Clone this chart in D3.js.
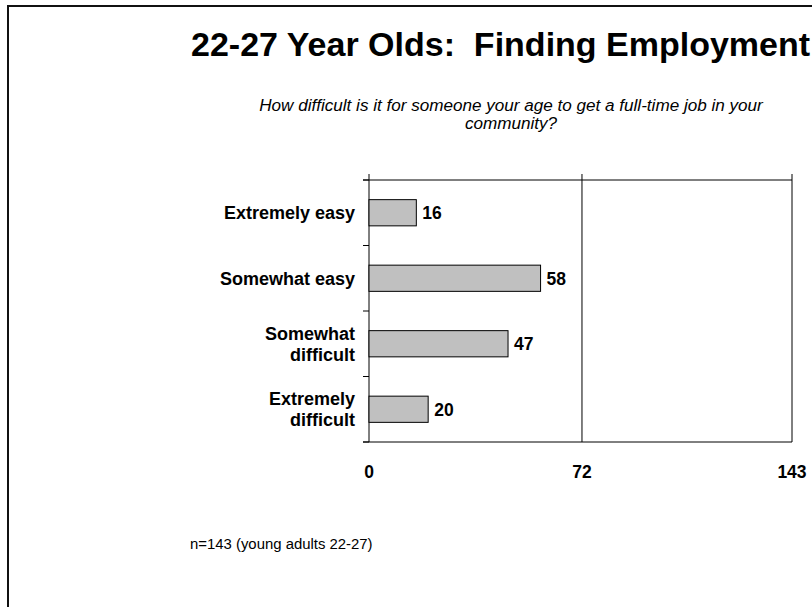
<!DOCTYPE html>
<html>
<head>
<meta charset="utf-8">
<script src="https://cdn.jsdelivr.net/npm/d3@7"></script>
<style>
  html, body { margin: 0; padding: 0; background: #fff; overflow: hidden; }
  svg { display: block; }
  text { font-family: "Liberation Sans", Arial, Helvetica, sans-serif; fill: #000; white-space: pre; }
</style>
</head>
<body>
<svg id="chart" width="812" height="607"></svg>
<script>
// ---- data ----
const categories = [["Extremely easy"], ["Somewhat easy"], ["Somewhat", "difficult"], ["Extremely", "difficult"]];
const values = [16, 58, 47, 20];
const tickValues = [0, 72, 143];
const titleText = "22-27 Year Olds:  Finding Employment";
const subtitleLines = ["How difficult is it for someone your age to get a full-time job in your", "community?"];
const footnote = "n=143 (young adults 22-27)";

const svg = d3.select("#chart");

// outer frame (extends past the visible area)
svg.append("rect")
  .attr("x", 8).attr("y", 6).attr("width", 900).attr("height", 700)
  .attr("fill", "none").attr("stroke", "#111").attr("stroke-width", 2);

// title
svg.append("text")
  .attr("x", 191).attr("y", 56)
  .attr("xml:space", "preserve")
  .style("font-size", "34px").style("font-weight", "bold")
  .text(titleText);

// subtitle
const sub = svg.append("text")
  .attr("text-anchor", "middle")
  .style("font-size", "17.1px").style("font-style", "italic");
subtitleLines.forEach((l, i) => {
  sub.append("tspan").attr("x", 511).attr("y", 111 + i * 17.5).text(l);
});

// scales
const x = d3.scaleLinear().domain([0, 143]).range([369, 792]);
const keys = categories.map((c, i) => i);
const y = d3.scaleBand().domain(keys).range([180, 442]).paddingInner(0.6).paddingOuter(0.3);

const g = svg.append("g");

// top border of plot
g.append("line").attr("x1", 363).attr("x2", x(143)).attr("y1", 180).attr("y2", 180)
  .attr("stroke", "#000").attr("stroke-width", 1);

// vertical gridlines/value ticks (with tick marks above)
g.selectAll("line.grid").data(tickValues).enter().append("line")
  .attr("class", "grid")
  .attr("x1", d => x(d)).attr("x2", d => x(d))
  .attr("y1", 174).attr("y2", 442)
  .attr("stroke", "#000").attr("stroke-width", 1);

// bottom axis line
g.append("line").attr("x1", 363).attr("x2", x(143)).attr("y1", 442).attr("y2", 442)
  .attr("stroke", "#000").attr("stroke-width", 1);

// category tick marks at band boundaries
const step = y.step();
const bounds = d3.range(categories.length + 1).map(i => 180 + i * step);
g.selectAll("line.ctick").data(bounds).enter().append("line")
  .attr("class", "ctick")
  .attr("x1", 363).attr("x2", 369).attr("y1", d => d).attr("y2", d => d)
  .attr("stroke", "#000").attr("stroke-width", 1);

// bars
g.selectAll("rect.bar").data(values).enter().append("rect")
  .attr("class", "bar")
  .attr("x", x(0)).attr("y", (d, i) => y(i))
  .attr("width", d => x(d) - x(0)).attr("height", y.bandwidth())
  .attr("fill", "#c0c0c0").attr("stroke", "#000").attr("stroke-width", 1);

// value labels
g.selectAll("text.val").data(values).enter().append("text")
  .attr("class", "val")
  .attr("x", d => x(d) + 6)
  .attr("y", (d, i) => y(i) + y.bandwidth() / 2)
  .attr("dy", "0.36em")
  .style("font-size", "17.5px").style("font-weight", "bold")
  .text(d => d);

// category labels
const lineH = 21;
categories.forEach((lines, i) => {
  const cy = y(i) + y.bandwidth() / 2;
  const t = g.append("text").attr("text-anchor", "end")
    .style("font-size", "18px").style("font-weight", "bold");
  const n = lines.length;
  lines.forEach((l, j) => {
    t.append("tspan").attr("x", 355)
      .attr("y", cy + (j - (n - 1) / 2) * lineH)
      .attr("dy", "0.36em").text(l);
  });
});

// x tick labels
g.selectAll("text.xt").data(tickValues).enter().append("text")
  .attr("class", "xt")
  .attr("x", d => x(d)).attr("y", 472)
  .attr("dy", "0.36em")
  .attr("text-anchor", "middle")
  .style("font-size", "17.5px").style("font-weight", "bold")
  .text(d => d);

// footnote
svg.append("text")
  .attr("x", 190).attr("y", 549)
  .style("font-size", "14.9px")
  .text(footnote);
</script>
</body>
</html>
